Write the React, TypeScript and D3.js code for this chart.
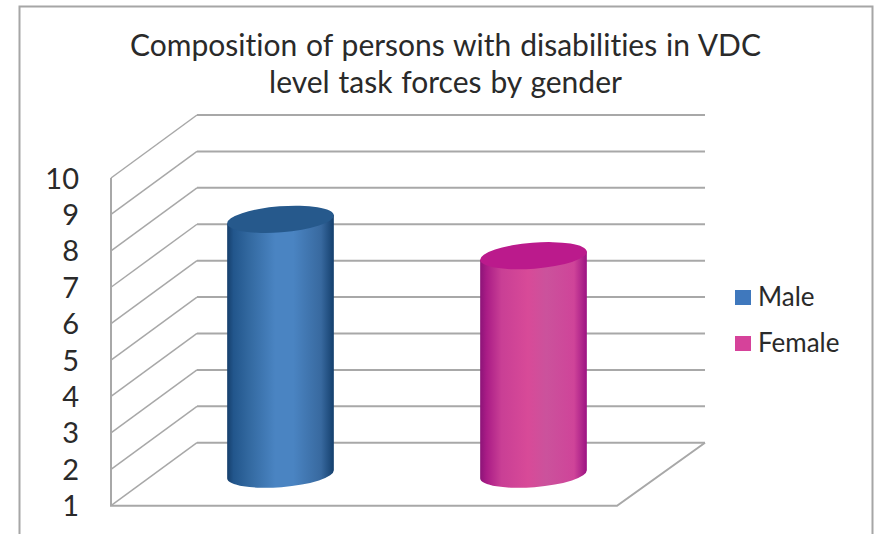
import React from "react";
import * as d3 from "d3";

const categories = ["Male", "Female"];
const values = [8, 7];
const ticks = [1, 2, 3, 4, 5, 6, 7, 8, 9, 10];
const titleLines = [
  "Composition of persons with disabilities in VDC",
  "level task forces by gender",
];
const gradientOffsets = [0, 0.06, 0.2, 0.45, 0.62, 0.88, 1];
const gradients = [
  ["#163f6c", "#22568c", "#32689f", "#4a84c2", "#4a84c2", "#38699f", "#143f6d"],
  ["#8c1478", "#aa1c86", "#c93f95", "#d84a98", "#cb529c", "#cf4499", "#9c1282"],
];
const topColors = ["#26598c", "#bb1a8c"];
const swatches = ["#3f78bd", "#d6429a"];

const W = 876;
const H = 534;
const FONT = "Lato, 'Open Sans', sans-serif";

// Oblique projection of the chart box: the back wall is shifted by depth.
const depthX = 86;
const depthY = -63;
const backOverhang = 2;
const y = d3.scaleLinear().domain([1, 10]).range([505.7, 178]);
const x = d3.scaleBand<string>().domain(categories).range([111, 617]).padding(0);
const ellipseRx = 53.5;
const ellipseRy = 13;
const tilt = -4.5;

// Point on an ellipse tilted by `tilt` degrees, used for the cylinder edges.
const sideOffset = (sign: number) => {
  const a = (tilt * Math.PI) / 180;
  return [sign * ellipseRx * Math.cos(a), sign * ellipseRx * Math.sin(a)];
};

function Cylinder({ index }: { index: number }) {
  const name = categories[index];
  const centre = (x(name) as number) + x.bandwidth() / 2 + depthX / 2;
  const yTop = y(values[index]) + depthY / 2;
  const yBase = y(1) + depthY / 2;
  const [lx, ly] = sideOffset(-1);
  const [rx, ry] = sideOffset(1);
  const bodyPath =
    `M${centre + lx},${yTop + ly}L${centre + lx},${yBase + ly}` +
    `A${ellipseRx},${ellipseRy} ${tilt} 0 0 ${centre + rx},${yBase + ry}` +
    `L${centre + rx},${yTop + ry}Z`;
  return (
    <g>
      <path d={bodyPath} fill={`url(#cyl-${index})`} />
      <ellipse
        cx={centre}
        cy={yTop}
        rx={ellipseRx}
        ry={ellipseRy}
        fill={topColors[index]}
        transform={`rotate(${tilt} ${centre} ${yTop})`}
      />
    </g>
  );
}

export default function App() {
  const x0 = x.range()[0];
  const x1 = x.range()[1];
  const gridColor = "#a8a8a8";
  return (
    <svg
      width={W}
      height={H}
      style={{ position: "absolute", left: 0, top: 0, background: "#fff" }}
    >
      <defs>
        {gradients.map((stops, i) => (
          <linearGradient key={i} id={`cyl-${i}`} x1="0" x2="1" y1="0" y2="0">
            {stops.map((c, j) => (
              <stop key={j} offset={gradientOffsets[j]} stopColor={c} />
            ))}
          </linearGradient>
        ))}
      </defs>

      {/* outer frame, open at the bottom */}
      <path d={`M19.5,${H}V6.5H872.5V${H}`} fill="none" stroke="#a6a6a6" strokeWidth={2} />

      {titleLines.map((t, i) => (
        <text
          key={t}
          x={445.5}
          y={56 + i * 37}
          textAnchor="middle"
          fontFamily={FONT}
          fontSize={30}
          wordSpacing={1.2}
          style={{ fontVariantLigatures: "none" }}
          fill="#2a2a2a"
        >
          {t}
        </text>
      ))}

      {/* side wall and back wall gridlines */}
      {ticks.map((t) => (
        <g key={t} fill="none" stroke={gridColor}>
          <path
            d={`M${x0},${y(t)}L${x0 + depthX},${y(t) + depthY}`}
            strokeWidth={1.5}
          />
          <path
            d={`M${x0 + depthX},${y(t) + depthY}H${x1 + depthX + backOverhang}`}
            strokeWidth={2}
          />
        </g>
      ))}
      <path
        d={`M${x0},${y(10)}V${y(1)}H${x1}L${x1 + depthX + backOverhang},${y(1) + depthY}`}
        fill="none"
        stroke={gridColor}
        strokeWidth={2}
      />

      {ticks.map((t) => (
        <text
          key={t}
          x={79}
          y={y(t) + 10.5}
          textAnchor="end"
          fontFamily={FONT}
          fontSize={29}
          fill="#2a2a2a"
        >
          {t}
        </text>
      ))}

      {categories.map((_, i) => (
        <Cylinder key={i} index={i} />
      ))}

      {categories.map((c, i) => (
        <g key={c}>
          <rect x={735} y={290 + i * 46} width={16} height={15} fill={swatches[i]} />
          <text x={758} y={306 + i * 46} fontFamily={FONT} fontSize={26} fill="#2a2a2a">
            {c}
          </text>
        </g>
      ))}
    </svg>
  );
}
